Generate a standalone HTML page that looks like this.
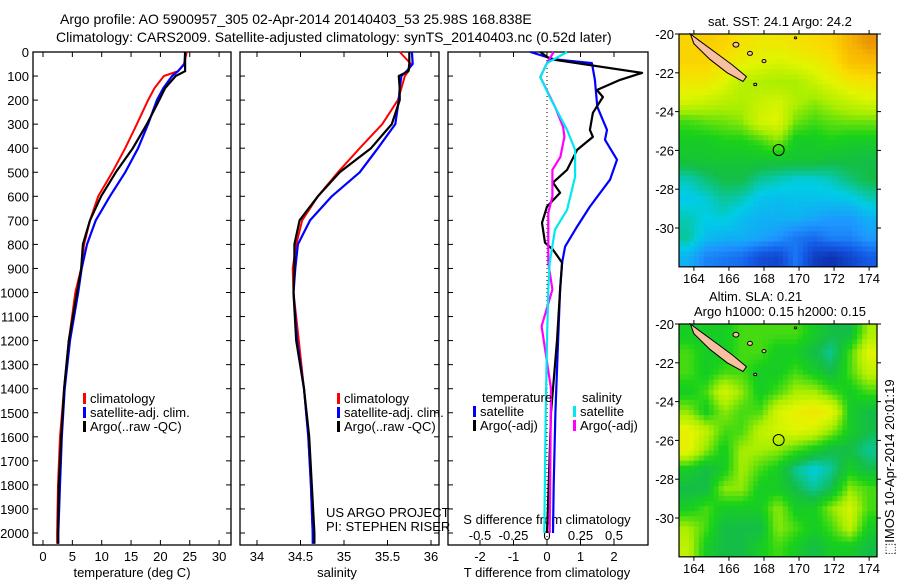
<!DOCTYPE html>
<html><head><meta charset="utf-8">
<style>
html,body{margin:0;padding:0;background:#fff;}
svg{display:block;font-family:"Liberation Sans",sans-serif;}
text{font-size:13px;fill:#000;}
</style></head>
<body>
<svg id="fig" width="900" height="580" viewBox="0 0 900 580">
<text x="60" y="24" style="font-size:14px">Argo profile: AO 5900957_305 02-Apr-2014 20140403_53 25.98S 168.838E</text>
<text x="56" y="42" style="font-size:14px">Climatology: CARS2009. Satellite-adjusted climatology: synTS_20140403.nc (0.52d later)</text>
<g id="g1"></g>
<g id="g2"></g>
<g id="g3"></g>
<g id="gm"></g>
<text x="0" y="0" transform="translate(894,555) rotate(-90)">⬚IMOS 10-Apr-2014 20:01:19</text>
</svg>
<script>
// ---- data ----
const depthLevels=[0,50,80,100,150,200,300,400,500,600,700,800,900,1000,1200,1400,1600,1800,2000,2045];
const tempClim=[24.5,24,23,20.6,19,17.9,16,14,11.8,9.4,8,7,6.5,5.5,4.4,3.6,2.9,2.55,2.4,2.4];
const tempArgo=[24.2,24.2,24.2,22.6,20.8,19.8,17.7,15.3,12.4,9.9,8,6.8,6.5,5.8,4.4,3.6,3.1,2.7,2.55,2.55];
const tempSat=[24.2,24.1,23,22,20.5,19.4,17.9,16.2,14,11.4,9,7.5,6.6,6,4.6,3.7,3.2,2.9,2.6,2.6];
const salClim=[35.64,35.77,35.74,35.70,35.66,35.62,35.44,35.18,34.93,34.70,34.52,34.45,34.41,34.42,34.48,34.54,34.59,34.62,34.64,34.65];
const salArgo=[35.75,35.75,35.74,35.63,35.64,35.64,35.55,35.31,34.95,34.70,34.49,34.43,34.43,34.42,34.45,34.54,34.60,34.63,34.66,34.66];
const salSat=[35.78,35.79,35.72,35.66,35.64,35.63,35.59,35.39,35.18,34.86,34.61,34.47,34.44,34.42,34.46,34.54,34.59,34.62,34.64,34.64];
const dBlueDepth=[0,30,46,116,228,324,365,448,531,643,726,809,876,988,1200,1500,1800,2000];
const dTSat=[-0.5,0.2,1.34,1.43,1.5,1.79,1.73,2.09,1.88,1.28,0.9,0.54,0.45,0.39,0.33,0.25,0.2,0.18];
const dBlackDepth=[0,30,87,116,158,187,253,324,353,407,490,543,585,643,710,793,822,876,988,1200,1500,1800,2000];
const dTArgo=[-0.2,0.1,2.84,2.18,1.49,1.67,1.37,1.28,1.37,0.9,0.6,0.18,0.39,0,-0.15,-0.06,0.18,0.45,0.39,0.3,0.12,0.05,0.0];
const dCyanDepth=[0,46,104,187,324,407,519,656,739,876,988,1200,1500,2000];
const dSSat=[0.15,0.0,-0.05,0.02,0.15,0.21,0.21,0.15,0.06,0.02,0.01,0.0,-0.01,-0.02];
const dMagDepth=[0,46,104,228,311,353,436,490,543,601,668,876,988,1140,1400,2000];
const dSArgo=[0.05,0.0,-0.05,0.06,0.12,0.13,0.1,0.04,0.04,0.04,0.01,0.01,0.04,-0.04,0.03,0.02];
const tTicks=[0,5,10,15,20,25,30];
const sTicks=[34,34.5,35,35.5,36];
const dTTicks=[-2,-1,0,1,2];
const dSTicks=[-0.5,-0.25,0,0.25,0.5];
const depthTicks=[0,100,200,300,400,500,600,700,800,900,1000,1100,1200,1300,1400,1500,1600,1700,1800,1900,2000];
const latTicks=[-20,-22,-24,-26,-28,-30];
const lonTicks=[164,166,168,170,172,174];
const sstGrid=[
[.8,.82,.8,.76,.74,.74,.76,.78,.8,.88,.92],
[.8,.8,.76,.72,.7,.68,.7,.72,.76,.84,.86],
[.74,.74,.7,.64,.63,.62,.62,.66,.7,.74,.76],
[.68,.66,.64,.63,.66,.68,.63,.6,.63,.66,.68],
[.55,.57,.58,.6,.68,.7,.58,.55,.57,.58,.58],
[.5,.5,.52,.52,.55,.6,.5,.5,.52,.5,.5],
[.48,.48,.48,.48,.48,.48,.48,.48,.46,.46,.45],
[.38,.42,.45,.45,.4,.38,.36,.36,.38,.42,.45],
[.34,.36,.4,.38,.33,.32,.33,.33,.33,.34,.38],
[.38,.35,.36,.32,.3,.3,.3,.28,.26,.26,.3],
[.4,.32,.3,.3,.28,.25,.2,.18,.22,.22,.26],
[.3,.22,.2,.18,.12,.1,.2,.08,.05,.1,.15]];
const slaGrid=[
[.5,.5,.5,.55,.55,.55,.55,.5,.45,.45,.62],
[.55,.5,.5,.55,.55,.5,.5,.45,.4,.55,.7],
[.55,.5,.55,.55,.5,.5,.55,.5,.45,.55,.65],
[.5,.55,.68,.6,.5,.55,.62,.62,.55,.5,.55],
[.6,.5,.6,.55,.55,.68,.72,.75,.72,.5,.45],
[.72,.65,.55,.55,.65,.68,.7,.68,.6,.5,.45],
[.72,.6,.5,.62,.62,.6,.55,.5,.45,.45,.4],
[.5,.45,.5,.62,.55,.5,.4,.35,.4,.5,.45],
[.45,.45,.6,.6,.5,.5,.45,.4,.45,.6,.55],
[.5,.55,.5,.5,.5,.6,.5,.5,.6,.68,.55],
[.62,.55,.45,.45,.45,.6,.55,.5,.55,.65,.5],
[.65,.5,.45,.45,.5,.55,.5,.45,.5,.5,.45]];

const NS="http://www.w3.org/2000/svg";
function mk(parent,tag,attrs,txt){const e=document.createElementNS(NS,tag);for(const k in attrs)e.setAttribute(k,attrs[k]);if(txt!==undefined)e.textContent=txt;parent.appendChild(e);return e;}
const Y0=52,YB=545;
const yD=d=>Y0+d*0.2405;

function frame(g,x0,x1){
  const r=mk(g,'rect',{x:x0,y:Y0,width:x1-x0,height:YB-Y0,fill:'none',stroke:'#000','stroke-width':1.3});
  
  
}
function xticks(g,ticks,fx,ylab,labels){
  ticks.forEach((t,i)=>{
    const x=fx(t);
    mk(g,'line',{x1:x,x2:x,y1:YB,y2:YB-5,stroke:'#000'});
    mk(g,'line',{x1:x,x2:x,y1:Y0,y2:Y0+5,stroke:'#000'});
    const tx=mk(g,'text',{x:x,y:ylab,'text-anchor':'middle'},labels?labels[i]:String(t));
    
    
  });
}
function yticks(g,x0,x1){
  depthTicks.forEach(d=>{
    const y=yD(d);
    mk(g,'line',{x1:x0,x2:x0+5,y1:y,y2:y,stroke:'#000'});
    mk(g,'line',{x1:x1,x2:x1-5,y1:y,y2:y,stroke:'#000'});
  });
}
function line(g,xs,ds,fx,color,w,name,dash){
  const pts=xs.map((v,i)=>fx(v).toFixed(1)+','+yD(ds[i]).toFixed(1)).join(' ');
  const p=mk(g,'polyline',{points:pts,fill:'none',stroke:color,'stroke-width':w,'stroke-linejoin':'round'});
  if(dash)p.setAttribute('stroke-dasharray',dash);
  
  
}
function legend(g,x,y,items){
  items.forEach((it,i)=>{
    mk(g,'rect',{x:x,y:y+i*14-10,width:3,height:11,fill:it[1]});
    const t=mk(g,'text',{x:x+7,y:y+i*14},it[0]);
    
    
  });
}
// Panel 1
const g1=document.getElementById('g1');
const fT=t=>43+t*5.87;
frame(g1,33,231);yticks(g1,33,231);
depthTicks.forEach(d=>{const t=mk(g1,'text',{x:29,y:yD(d)+5,'text-anchor':'end'},String(d));});
xticks(g1,tTicks,fT,561);
let t1=mk(g1,'text',{x:132,y:577,'text-anchor':'middle'},'temperature (deg C)');
line(g1,tempClim,depthLevels,fT,'#ff0000',2,'temperature-climatology-line');
line(g1,tempSat,depthLevels,fT,'#0000ff',2.2,'temperature-satellite-line');
line(g1,tempArgo,depthLevels,fT,'#000',2.2,'temperature-argo-line');
legend(g1,83,403,[['climatology','#ff0000'],['satellite-adj. clim.','#0000ff'],['Argo(..raw -QC)','#000']]);
// Panel 2
const g2=document.getElementById('g2');
const fS=s=>257+(s-34)*87;
frame(g2,240,439);yticks(g2,240,439);
xticks(g2,sTicks,fS,561);
let t2=mk(g2,'text',{x:337,y:577,'text-anchor':'middle'},'salinity');
line(g2,salClim,depthLevels,fS,'#ff0000',2,'salinity-climatology-line');
line(g2,salSat,depthLevels,fS,'#0000ff',2.2,'salinity-satellite-line');
line(g2,salArgo,depthLevels,fS,'#000',2.2,'salinity-argo-line');
legend(g2,337,403,[['climatology','#ff0000'],['satellite-adj. clim.','#0000ff'],['Argo(..raw -QC)','#000']]);
let u1=mk(g2,'text',{x:326,y:517},'US ARGO PROJECT');
let u2=mk(g2,'text',{x:326,y:531},'PI: STEPHEN RISER');
// Panel 3
const g3=document.getElementById('g3');
const fDT=v=>547+v*33.5;
const fDS=v=>547+v*134;
frame(g3,448,648);
depthTicks.forEach(d=>{const y=yD(d);mk(g3,'line',{x1:448,x2:453,y1:y,y2:y,stroke:'#000'});});
xticks(g3,dTTicks,fDT,561);
dSTicks.forEach(v=>{const t=mk(g3,'text',{x:fDS(v),y:540,'text-anchor':'middle'},String(v));});
let t3=mk(g3,'text',{x:547,y:577,'text-anchor':'middle'},'T difference from climatology');
let t4=mk(g3,'text',{x:547,y:524,'text-anchor':'middle'},'S difference from climatology');
mk(g3,'line',{x1:fDT(0),x2:fDT(0),y1:Y0,y2:YB,stroke:'#000','stroke-dasharray':'1,3'});
line(g3,dTSat,dBlueDepth,fDT,'#0000ff',2.2,'t-diff-satellite-line');
line(g3,dTArgo,dBlackDepth,fDT,'#000',2.2,'t-diff-argo-line');
line(g3,dSArgo,dMagDepth,fDS,'#ff00ff',2.2,'s-diff-argo-line');
line(g3,dSSat,dCyanDepth,fDS,'#00e8f0',2.2,'s-diff-satellite-line');
let lt=mk(g3,'text',{x:482,y:402},'temperature');
let ls=mk(g3,'text',{x:582,y:402},'salinity');
legend(g3,473,416,[['satellite','#0000ff'],['Argo(-adj)','#000']]);
legend(g3,573,416,[['satellite','#00e8f0'],['Argo(-adj)','#ff00ff']]);
// Maps
const gm=document.getElementById('gm');
const MX0=679,MX1=877,LON0=163.15,LON1=174.45;
const fLon=l=>MX0+(l-LON0)*(MX1-MX0)/(LON1-LON0);
const cmap=[[0,[10,30,150]],[0.15,[20,90,230]],[0.25,[30,150,255]],[0.35,[0,205,230]],[0.45,[20,190,70]],[0.52,[25,210,25]],[0.62,[170,238,0]],[0.7,[225,245,0]],[0.78,[250,220,0]],[0.88,[248,180,0]],[1,[205,90,10]]];
function col(v){v=Math.max(0,Math.min(1,v));for(let i=1;i<cmap.length;i++){if(v<=cmap[i][0]){const a=cmap[i-1],b=cmap[i],f=(v-a[0])/(b[0]-a[0]);return 'rgb('+a[1].map((c,k)=>Math.round(c+(b[1][k]-c)*f)).join(',')+')';}}return 'rgb(205,90,10)';}
function map(grid,y0,title,name){
  const fLat=l=>y0+(-20-l)*19.4;
  const y1=fLat(-32);
  const g=mk(gm,'g',{});
  
  
  const nx=40,ny=46;const R=grid.length,C=grid[0].length;
  const cw=(MX1-MX0)/nx,ch=(y1-y0)/ny;
  for(let j=0;j<ny;j++)for(let i=0;i<nx;i++){
    const gx=Math.max(0,Math.min(C-1.001,(i+0.5)/nx*C-0.5)),gy=Math.max(0,Math.min(R-1.001,(j+0.5)/ny*R-0.5));
    const ix=Math.floor(gx),iy=Math.floor(gy),fx=gx-ix,fy=gy-iy;
    const v=grid[iy][ix]*(1-fx)*(1-fy)+grid[iy][ix+1]*fx*(1-fy)+grid[iy+1][ix]*(1-fx)*fy+grid[iy+1][ix+1]*fx*fy;
    mk(g,'rect',{x:(MX0+i*cw).toFixed(2),y:(y0+j*ch).toFixed(2),width:(cw+0.6).toFixed(2),height:(ch+0.6).toFixed(2),fill:col(v)});
  }
  const nc=[[163.8,-20.0],[164.4,-20.4],[165.3,-21.0],[166.2,-21.6],[167.0,-22.2],[166.8,-22.45],[165.9,-22.0],[164.9,-21.3],[164.0,-20.5]];
  const lp=mk(g,'polygon',{points:nc.map(p=>fLon(p[0]).toFixed(1)+','+fLat(p[1]).toFixed(1)).join(' '),fill:'#f8c0a0',stroke:'#000','stroke-width':1});
  
  [[166.4,-20.55,3],[167.2,-21.0,2.5],[168.0,-21.4,2],[167.5,-22.6,1.5],[169.8,-20.2,1.2]].forEach(p=>mk(g,'ellipse',{cx:fLon(p[0]),cy:fLat(p[1]),rx:p[2],ry:p[2]*0.8,fill:'#f8c0a0',stroke:'#000','stroke-width':1}));
  const c=mk(g,'circle',{cx:fLon(168.838),cy:fLat(-25.98),r:5.5,fill:'none',stroke:'#000','stroke-width':1});
  
  mk(g,'rect',{x:MX0,y:y0,width:MX1-MX0,height:y1-y0,fill:'none',stroke:'#000','stroke-width':1.2});
  latTicks.forEach(l=>{const y=fLat(l);mk(g,'line',{x1:MX0-4,x2:MX0,y1:y,y2:y,stroke:'#000'});mk(g,'line',{x1:MX1,x2:MX1+4,y1:y,y2:y,stroke:'#000'});
    const t=mk(g,'text',{x:MX0-5,y:y+5,'text-anchor':'end'},String(l));});
  lonTicks.forEach(l=>{const x=fLon(l);mk(g,'line',{x1:x,x2:x,y1:y0-4,y2:y0,stroke:'#000'});mk(g,'line',{x1:x,x2:x,y1:y1,y2:y1+4,stroke:'#000'});
    const t=mk(g,'text',{x:x,y:y1+16,'text-anchor':'middle'},String(l));});
  title.forEach(tt=>{const t=mk(g,'text',{x:tt[0],y:tt[1]},tt[2]);});
}
map(sstGrid,34,[[708,26,'sat. SST: 24.1 Argo: 24.2']],'sst-map');
map(slaGrid,324,[[709,301,'Altim. SLA: 0.21'],[694,316,'Argo h1000: 0.15 h2000: 0.15']],'sla-map');
</script>
</body></html>
